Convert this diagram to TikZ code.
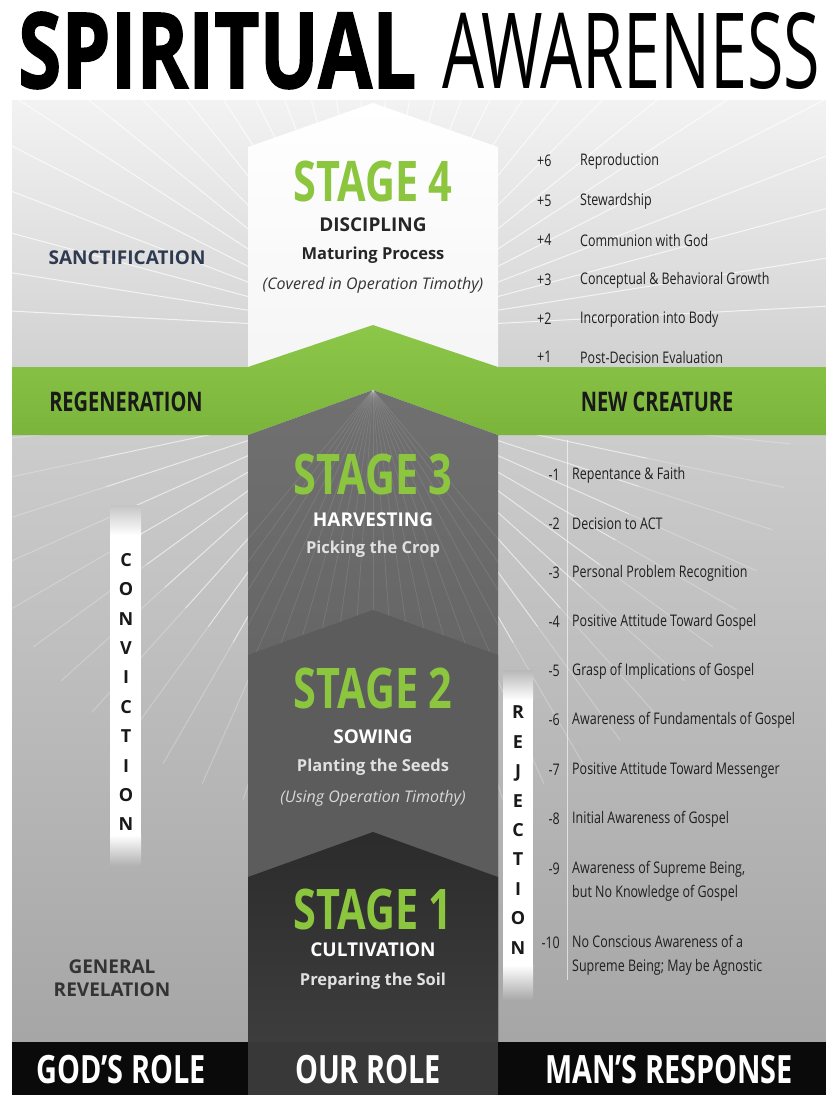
\documentclass[tikz,border=0pt]{standalone}
\usepackage{fontspec}
\setmainfont{Open Sans}
\newfontfamily\condfont[FakeStretch=0.74]{Open Sans}
\newfontfamily\listfont[FakeStretch=0.78]{Open Sans}
\newfontfamily\heavyfont[FakeBold=1.5]{Open Sans}
\usetikzlibrary{positioning}

\definecolor{leafgreen}{HTML}{8CC63F}
\definecolor{bandgreen}{HTML}{86C440}
\definecolor{slate}{HTML}{2E3A50}

\begin{document}
\begin{tikzpicture}[x=1pt, y=-1pt, every node/.style={inner sep=0pt},
    ray/.style={white, line width=1pt},
    stagenum/.style={font=\condfont\bfseries\fontsize{56}{56}\selectfont, text=leafgreen},
    stagename/.style={font=\bfseries\fontsize{19}{21}\selectfont},
    stagesub/.style={font=\bfseries\fontsize{16.5}{19}\selectfont},
    stagenote/.style={font=\itshape\fontsize{16}{18}\selectfont},
    bandlabel/.style={font=\condfont\bfseries\fontsize{27}{27}\selectfont, text=black!90},
    rolelabel/.style={font=\condfont\bfseries\fontsize{39}{39}\selectfont, text=white},
    itemnum/.style={font=\listfont\fontsize{16}{24}\selectfont, text=black!88},
    itemtxt/.style={font=\listfont\fontsize{16}{24}\selectfont, text=black!88, anchor=west, align=left},
    spelled/.style={font=\bfseries\fontsize{18}{29.4}\selectfont, align=center, text=black!90}]

    \useasboundingbox (0,0) rectangle (826,1095);
    \fill[white] (0,0) rectangle (826,1095);

    % titulo
    \node[anchor=base west] (spiritual) at (18,88) {\resizebox{398pt}{76pt}{\heavyfont\bfseries SPIRITUAL}};
    \node[anchor=base west] (awareness) at (442,88) {\resizebox{378pt}{76pt}{AWARENESS}};

    % fundo
    \shade[top color=black!5, bottom color=black!18] (12,100) rectangle (826,367);
    \shade[top color=black!20, bottom color=black!35] (12,435) rectangle (826,1042);

    % raios de cima
    \begin{scope}
        \clip (12,100) rectangle (826,367);
        \foreach \a in {183,189,...,357}
            \draw[ray, opacity=.7] (373,330) -- ++(\a:600);
    \end{scope}

    % raios de baixo
    \begin{scope}
        \clip (12,435) rectangle (826,1042);
        \foreach \a in {6,12,...,84,96,102,...,174} {
            \draw[ray, opacity=.6] (373,400) ++(\a:110) -- ++(\a:170);
            \draw[ray, opacity=.25] (373,400) ++(\a:280) -- ++(\a:140);
        }
    \end{scope}

    % faixas verticais
    \fill[white] (110,535) rectangle (141,835);
    \shade[top color=black!23, bottom color=white] (110,505) rectangle (141,535);
    \shade[top color=white, bottom color=black!30] (110,835) rectangle (141,865);
    \fill[white] (503,700) rectangle (533,965);
    \shade[top color=black!28, bottom color=white] (503,670) rectangle (533,700);
    \shade[top color=white, bottom color=black!34] (503,965) rectangle (533,1000);
    \draw[white, opacity=.6, line width=.8pt] (567,440) -- (567,980);

    % estagio 4
    \shade[top color=white, bottom color=black!4] (248,147) -- (373,103) -- (498,147) -- (498,380) -- (248,380) -- cycle;

    % faixa verde
    \shade[top color=bandgreen!95!white, bottom color=bandgreen!92!black]
        (12,367) -- (248,367) -- (373,325) -- (498,367) -- (826,367) -- (826,435)
        -- (498,435) -- (373,390) -- (248,435) -- (12,435) -- cycle;

    % estagios 3, 2 e 1
    \shade[top color=black!56, bottom color=black!66] (248,435) -- (373,390) -- (498,435) -- (498,1042) -- (248,1042) -- cycle;
    \begin{scope}
        \clip (248,435) -- (373,390) -- (498,435) -- (498,660) -- (248,660) -- cycle;
        \foreach \a in {50,54,...,130}
            \draw[white, opacity=.1, line width=.8pt] (373,390) -- ++(\a:300);
    \end{scope}
    \fill[black!64] (248,655) -- (373,610) -- (498,655) -- (498,1042) -- (248,1042) -- cycle;
    \shade[top color=black!83, bottom color=black!76] (248,877) -- (373,832) -- (498,877) -- (498,1042) -- (248,1042) -- cycle;

    % barra de baixo
    \fill[black!96] (12,1042) rectangle (826,1095);
    \fill[black!78] (248,1042) rectangle (498,1095);

    % textos dos estagios
    \node[stagenum] (s4num) at (373,181) {STAGE 4};
    \node[stagename, text=black!85] (s4name) at (373,225) {DISCIPLING};
    \node[stagesub, text=black!85] (s4sub) at (373,255) {Maturing Process};
    \node[stagenote, text=black!80] (s4note) at (373,285) {(Covered in Operation Timothy)};

    \node[stagenum] (s3num) at (373,474) {STAGE 3};
    \node[stagename, text=white] (s3name) at (373,520) {HARVESTING};
    \node[stagesub, text=black!12] (s3sub) at (373,549) {Picking the Crop};

    \node[stagenum] (s2num) at (373,688) {STAGE 2};
    \node[stagename, text=white] (s2name) at (373,737) {SOWING};
    \node[stagesub, text=black!12] (s2sub) at (373,767) {Planting the Seeds};
    \node[stagenote, text=black!15] (s2note) at (373,798) {(Using Operation Timothy)};

    \node[stagenum] (s1num) at (373,909) {STAGE 1};
    \node[stagename, text=white] (s1name) at (373,950) {CULTIVATION};
    \node[stagesub, text=black!12] (s1sub) at (373,981) {Preparing the Soil};

    % coluna da esquerda
    \node[font=\bfseries\fontsize{19}{22}\selectfont, text=slate] (sanct) at (127,258) {SANCTIFICATION};
    \node[bandlabel] (regen) at (126,402) {REGENERATION};
    \node[spelled] (convict) at (126,692) {C\\O\\N\\V\\I\\C\\T\\I\\O\\N};
    \node[font=\bfseries\fontsize{19}{23}\selectfont, align=center, text=black!80] (genrev) at (112,978) {GENERAL\\REVELATION};

    % coluna da direita
    \node[bandlabel] (newcr) at (657,402) {NEW CREATURE};
    \node[spelled] (reject) at (518,830) {R\\E\\J\\E\\C\\T\\I\\O\\N};

    \foreach \i/\n/\t/\y in {1/+6/Reproduction/161, 2/+5/Stewardship/201,
        3/+4/Communion with God/240, 4/+3/Conceptual \& Behavioral Growth/280,
        5/+2/Incorporation into Body/319, 6/+1/Post-Decision Evaluation/357} {
        \node[itemnum, anchor=west] (upn\i) at (537,\y) {\n};
        \node[itemtxt] (upt\i) at (580,\y) {\t};
    }

    \foreach \i/\n/\t/\y/\ny in {1/-1/Repentance \& Faith/475/475, 2/-2/Decision to ACT/524/524,
        3/-3/Personal Problem Recognition/573/573, 4/-4/Positive Attitude Toward Gospel/622/622,
        5/-5/Grasp of Implications of Gospel/671/671, 6/-6/Awareness of Fundamentals of Gospel/720/720,
        7/-7/Positive Attitude Toward Messenger/770/770, 8/-8/Initial Awareness of Gospel/819/819,
        9/-9/{Awareness of Supreme Being,\\but No Knowledge of Gospel}/881/869,
        10/-10/{No Conscious Awareness of a\\Supreme Being; May be Agnostic}/955/943} {
        \node[itemnum, anchor=east] (lown\i) at (560,\ny) {\n};
        \node[itemtxt] (lowt\i) at (572,\y) {\t};
    }

    % papeis
    \node[rolelabel] (godrole) at (121,1070) {GOD’S ROLE};
    \node[rolelabel] (ourrole) at (368,1070) {OUR ROLE};
    \node[rolelabel] (manresp) at (669,1070) {MAN’S RESPONSE};
\end{tikzpicture}
\end{document}
